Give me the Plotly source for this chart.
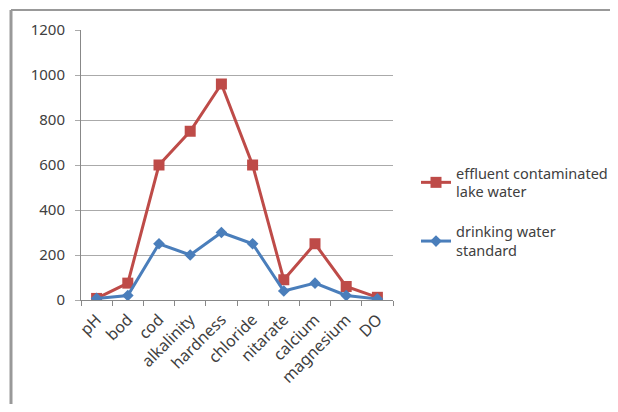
import plotly.graph_objects as go

categories = ["pH", "bod", "cod", "alkalinity", "hardness", "chloride", "nitarate", "calcium", "magnesium", "DO"]
effluent = [7, 75, 600, 750, 960, 600, 90, 250, 60, 12]
drinking = [7, 20, 250, 200, 300, 250, 40, 75, 20, 5]
yticks = [0, 200, 400, 600, 800, 1000, 1200]

RED = "#BE4B48"
BLUE = "#4A7EBB"
FONT = "Noto Sans"
TXT = "#404040"

fig = go.Figure()
fig.add_trace(go.Scatter(
    x=categories, y=effluent, mode="lines+markers",
    name="effluent contaminated<br>lake water", legendgroup="g1",
    line=dict(color=RED, width=3),
    marker=dict(symbol="square", size=11, color=RED),
))
fig.add_trace(go.Scatter(
    x=categories, y=drinking, mode="lines+markers",
    name="drinking water<br>standard", legendgroup="g2",
    line=dict(color=BLUE, width=3),
    marker=dict(symbol="diamond", size=9, color=BLUE),
))

OFF = 8  # page body margin
W, H = 618 - 2 * OFF, 412 - 2 * OFF
L, T = 81 - OFF, 30 - OFF
R = W - (393 - OFF)
B = H - (300 - OFF)
pw, ph = W - L - R, H - T - B

def px_x(x):
    return (x - OFF - L) / pw

def px_y(y):
    return (300 - y) / ph

fig.update_layout(
    width=W, height=H,
    margin=dict(l=L, r=R, t=T, b=B, autoexpand=False),
    paper_bgcolor="white", plot_bgcolor="white",
    font=dict(family=FONT, size=14, color=TXT),
    showlegend=True,
    legend=dict(
        x=px_x(416), y=px_y(157), xanchor="left", yanchor="top",
        font=dict(size=14.5, color=TXT), tracegroupgap=18,
        itemwidth=30, bgcolor="rgba(0,0,0,0)",
    ),
    xaxis=dict(
        type="category", tickangle=-45, showgrid=False, automargin=False,
        showline=True, linecolor="#888888", linewidth=1,
        ticks="outside", tickson="boundaries", ticklen=5, tickcolor="#888888",
        ticklabelstandoff=3,
        tickfont=dict(size=16, color=TXT),
        range=[-0.5, len(categories) - 0.5],
    ),
    yaxis=dict(
        range=[0, 1200], tickvals=yticks, ticktext=[str(v) for v in yticks],
        showgrid=True, gridcolor="#AAAAAA", gridwidth=1, automargin=False,
        showline=True, linecolor="#888888", linewidth=1,
        ticks="outside", ticklen=5, tickcolor="#AAAAAA",
        ticklabelstandoff=7,
        tickfont=dict(size=15, color=TXT), zeroline=False,
    ),
)

# outer chart frame: left and top edges only
fig.add_shape(type="line", xref="paper", yref="paper",
              x0=px_x(11), x1=px_x(11),
              y0=px_y(420), y1=px_y(10),
              line=dict(color="#999999", width=3), layer="below")
fig.add_shape(type="line", xref="paper", yref="paper",
              x0=px_x(11), x1=px_x(630),
              y0=px_y(10), y1=px_y(10),
              line=dict(color="#999999", width=2), layer="below")

fig.write_html("out.html")
